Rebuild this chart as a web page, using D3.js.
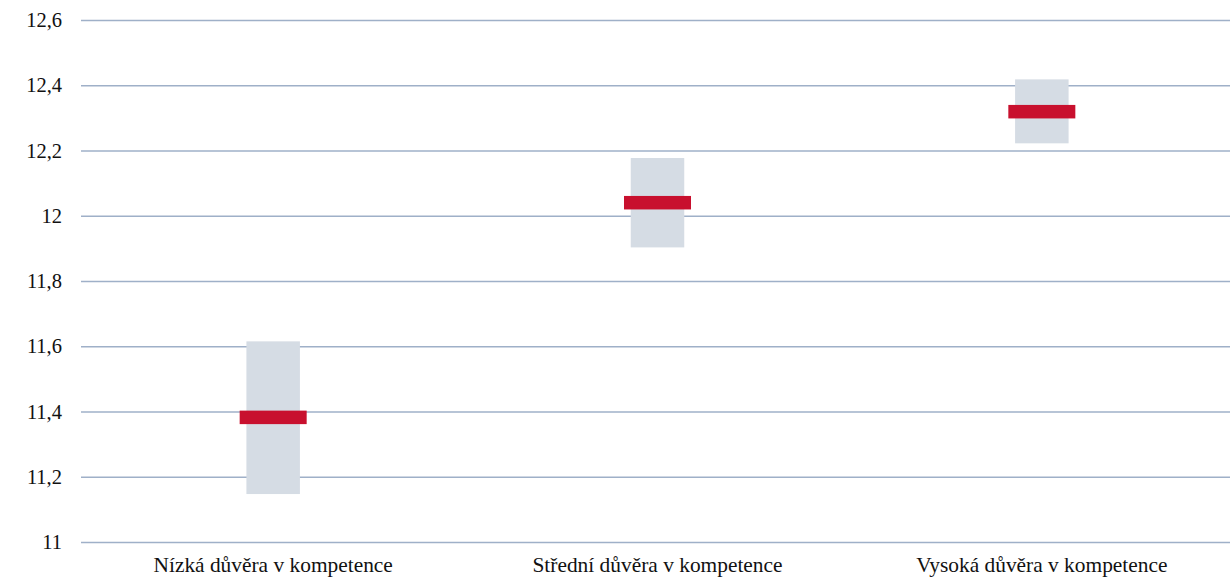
<!DOCTYPE html>
<html>
<head>
<meta charset="utf-8">
<script src="https://cdn.jsdelivr.net/npm/d3@7"></script>
<style>
  body { margin: 0; background: #fff; }
</style>
</head>
<body>
<div id="chart"></div>
<script>
// Données
const categories = ["Nízká důvěra v kompetence", "Střední důvěra v kompetence", "Vysoká důvěra v kompetence"];
const low = [11.147, 11.903, 12.222];
const high = [11.615, 12.177, 12.418];
const mean = [11.382, 12.04, 12.319];
const yTicks = [11, 11.2, 11.4, 11.6, 11.8, 12, 12.2, 12.4, 12.6];

const width = 1230;
const height = 578;
const margin = { top: 20, right: -4, bottom: 36, left: 81 };
const font = "Liberation Serif, Times New Roman, serif";

const svg = d3
  .select("#chart")
  .append("svg")
  .attr("width", width)
  .attr("height", height);

const x = d3
  .scaleBand()
  .domain(categories)
  .range([margin.left, width - margin.right])
  .padding(0);

const y = d3
  .scaleLinear()
  .domain([11, 12.6])
  .range([height - margin.bottom, margin.top]);

const fmt = (d) => String(d).replace(".", ",");

// Axe y + lignes de grille
svg
  .append("g")
  .attr("transform", `translate(${margin.left},0)`)
  .call(d3.axisLeft(y).tickValues(yTicks).tickFormat(fmt).tickSize(0).tickPadding(19))
  .call((g) => g.select(".domain").remove())
  .call((g) =>
    g
      .selectAll(".tick line")
      .attr("x2", width - margin.left)
      .attr("stroke", "#9fb0c8")
      .attr("stroke-width", 1.3)
  )
  .call((g) =>
    g
      .selectAll(".tick text")
      .attr("font-family", font)
      .attr("font-size", 20.5)
      .attr("fill", "#111")
  );

// Axe x (libellés seulement)
svg
  .append("g")
  .attr("transform", `translate(0,${height - margin.bottom})`)
  .call(d3.axisBottom(x).tickSize(0).tickPadding(15))
  .call((g) => g.select(".domain").remove())
  .call((g) =>
    g
      .selectAll(".tick text")
      .attr("font-family", font)
      .attr("font-size", 21.4)
      .attr("fill", "#111")
  );

const boxW = 53.5;
const markW = 67;
const markH = 13.5;

// Intervalles (gris)
svg
  .selectAll(".range")
  .data(categories)
  .enter()
  .append("rect")
  .attr("class", "range")
  .attr("x", (d) => x(d) + x.bandwidth() / 2 - boxW / 2)
  .attr("width", boxW)
  .attr("y", (d, i) => y(high[i]))
  .attr("height", (d, i) => y(low[i]) - y(high[i]))
  .attr("fill", "#d5dce4");

// Moyennes (rouge)
svg
  .selectAll(".mean")
  .data(categories)
  .enter()
  .append("rect")
  .attr("class", "mean")
  .attr("x", (d) => x(d) + x.bandwidth() / 2 - markW / 2)
  .attr("width", markW)
  .attr("y", (d, i) => y(mean[i]) - markH / 2)
  .attr("height", markH)
  .attr("fill", "#c8102e");
</script>
</body>
</html>
